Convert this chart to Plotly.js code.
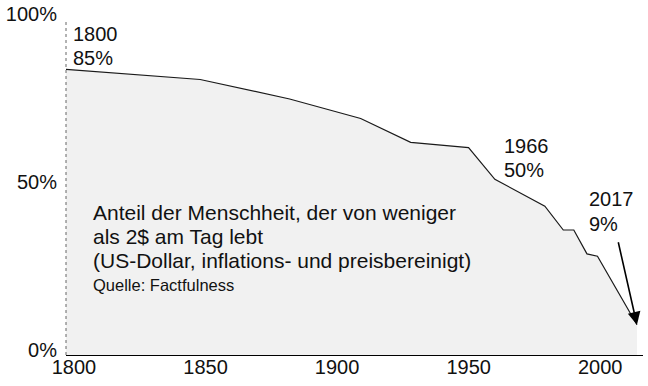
<!DOCTYPE html>
<html>
<head>
<meta charset="utf-8">
<script src="https://cdn.plot.ly/plotly-3.0.1.min.js"></script>
<style>
  html, body { margin: 0; padding: 0; background: #fff; }
  #chart { width: 648px; height: 386px; }
</style>
</head>
<body>
<div id="chart"></div>
<script>
// Data
const years = [1800, 1851, 1885, 1912, 1931, 1953, 1963, 1982, 1989, 1993, 1998, 2002, 2017];
const shareInPoverty = [85, 82, 76.2, 70.4, 63.3, 61.7, 52.3, 44.3, 37.2, 37.2, 30.1, 29.4, 9];
const xTickVals = [1800, 1850, 1900, 1950, 2000];
const xTickText = ["1800", "1850", "1900", "1950", "2000"];
const yTickVals = [0, 50, 100];
const yTickText = ["0%", "50%", "100%"];
const titleLines = [
  "Anteil der Menschheit, der von weniger",
  "als 2$ am Tag lebt",
  "(US-Dollar, inflations- und preisbereinigt)"
];
const sourceLine = "Quelle: Factfulness";
const callouts = [
  { year: "1800", value: "85%" },
  { year: "1966", value: "50%" },
  { year: "2017", value: "9%" }
];

const FONT = '"Liberation Sans", Arial, Helvetica, sans-serif';

// plot area in pixels
const L = 66, R = 643, T = 19, B = 355;
const W = 648, H = 386;
const px = x => (x - L) / (R - L);
const py = y => (B - y) / (B - T);

const trace = {
  x: years,
  y: shareInPoverty,
  type: 'scatter',
  mode: 'lines',
  fill: 'tozeroy',
  fillcolor: '#f1f1f1',
  line: { color: '#1a1a1a', width: 1.2 },
  hoverinfo: 'skip'
};

const annotations = [];
const titleY = [212.5, 236.5, 260.5];
titleLines.forEach((t, i) => {
  annotations.push({
    text: t, showarrow: false, xref: 'paper', yref: 'paper',
    x: px(91), y: py(titleY[i]), xanchor: 'left', yanchor: 'middle',
    font: { family: FONT, size: 21, color: '#111' }
  });
});
annotations.push({
  text: sourceLine, showarrow: false, xref: 'paper', yref: 'paper',
  x: px(91), y: py(285), xanchor: 'left', yanchor: 'middle',
  font: { family: FONT, size: 16.5, color: '#111' }
});

const calloutPos = [
  { x: 71, y1: 34, y2: 57.5 },
  { x: 502, y1: 145.5, y2: 170 },
  { x: 587, y1: 199, y2: 224 }
];
callouts.forEach((c, i) => {
  const p = calloutPos[i];
  annotations.push({
    text: c.year, showarrow: false, xref: 'paper', yref: 'paper',
    x: px(p.x), y: py(p.y1), xanchor: 'left', yanchor: 'middle',
    font: { family: FONT, size: 20, color: '#111' }
  });
  annotations.push({
    text: c.value, showarrow: false, xref: 'paper', yref: 'paper',
    x: px(p.x), y: py(p.y2), xanchor: 'left', yanchor: 'middle',
    font: { family: FONT, size: 20, color: '#111' }
  });
});

annotations.push({
  text: '', showarrow: true, xref: 'x', yref: 'y',
  x: years[years.length - 1], y: shareInPoverty[shareInPoverty.length - 1],
  ax: -19, ay: -84,
  arrowhead: 2, arrowsize: 1.6, arrowwidth: 1.6, arrowcolor: '#000'
});

const layout = {
  width: W, height: H,
  margin: { l: L, r: W - R, t: T, b: H - B, pad: 0 },
  paper_bgcolor: '#fff',
  plot_bgcolor: '#fff',
  showlegend: false,
  xaxis: {
    range: [1800, 2019.3],
    tickvals: xTickVals, ticktext: xTickText,
    showgrid: false, zeroline: false,
    showline: true, linecolor: '#000', linewidth: 1,
    ticks: '', ticklabelshift: 8, ticklabelstandoff: -6,
    tickfont: { family: FONT, size: 20, color: '#111' },
    fixedrange: true
  },
  yaxis: {
    range: [0, 100],
    tickvals: yTickVals, ticktext: yTickText,
    showgrid: false, zeroline: false, showline: false,
    ticks: '', ticklabelshift: -5, ticklabelstandoff: 8,
    tickfont: { family: FONT, size: 20, color: '#111' },
    fixedrange: true
  },
  shapes: [{
    type: 'line', xref: 'paper', yref: 'paper',
    x0: 0, x1: 0, y0: 0, y1: 1,
    line: { color: '#666', width: 1, dash: 'dot' }
  }],
  annotations: annotations
};

Plotly.newPlot('chart', [trace], layout, { staticPlot: true, displayModeBar: false });
</script>
</body>
</html>
